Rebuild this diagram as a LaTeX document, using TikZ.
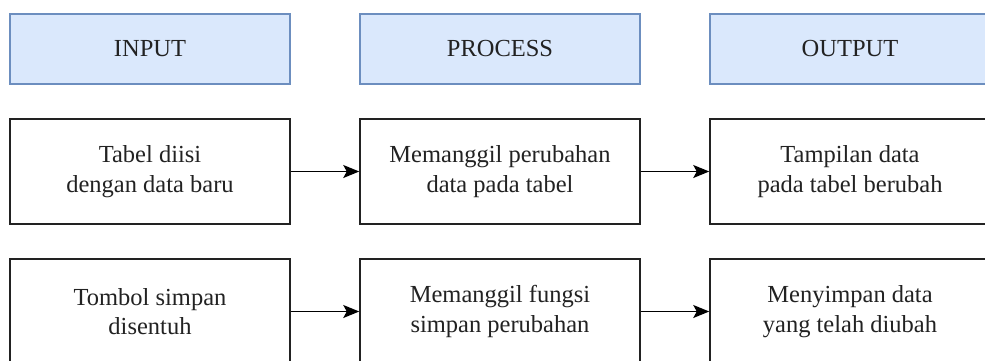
\documentclass[tikz,border=0pt]{standalone}
\usepackage{fontspec}
\setmainfont{Liberation Serif}
\usetikzlibrary{arrows.meta}

\definecolor{headfill}{HTML}{DAE8FC}
\definecolor{headline}{HTML}{6C8EBF}
\definecolor{inkcol}{HTML}{222222}

\tikzset{
  stagehead/.style={draw=headline, fill=headfill, line width=1.4pt,
    minimum width=280pt, minimum height=70pt, inner sep=0pt,
    text=inkcol, font=\fontsize{24.5}{29}\selectfont},
  stepbox/.style={draw=inkcol, fill=white, line width=1.5pt,
    minimum width=280pt, minimum height=105pt, inner sep=0pt,
    align=center, text=inkcol, font=\fontsize{24.5}{29.5}\selectfont},
  flow/.style={draw=black, line width=1.5pt,
    -{Stealth[length=16pt, width=13pt, inset=3.5pt]}}
}

\begin{document}
\begin{tikzpicture}[x=1pt, y=-1pt]
  \clip (0,0) rectangle (985,361);
  \fill[white] (0,0) rectangle (985,361);

  % stage headings
  \node[stagehead] (hin)  at (150,49) {INPUT};
  \node[stagehead] (hpro) at (500,49) {PROCESS};
  \node[stagehead] (hout) at (850,49) {OUTPUT};

  % first row
  \node[stepbox] (in1)  at (150,171.5) {Tabel diisi\\dengan data baru};
  \node[stepbox] (pro1) at (500,171.5) {Memanggil perubahan\\data pada tabel};
  \node[stepbox] (out1) at (850,171.5) {Tampilan data\\pada tabel berubah};

  % second row
  \node[stepbox] (in2)  at (150,311.5) {Tombol simpan\\disentuh};
  \node[stepbox] (pro2) at (500,311.5) {Memanggil fungsi\\simpan perubahan};
  \node[stepbox] (out2) at (850,311.5) {Menyimpan data\\yang telah diubah};

  % connectors
  \draw[flow] (in1) -- (pro1);
  \draw[flow] (pro1) -- (out1);
  \draw[flow] (in2) -- (pro2);
  \draw[flow] (pro2) -- (out2);
\end{tikzpicture}
\end{document}
